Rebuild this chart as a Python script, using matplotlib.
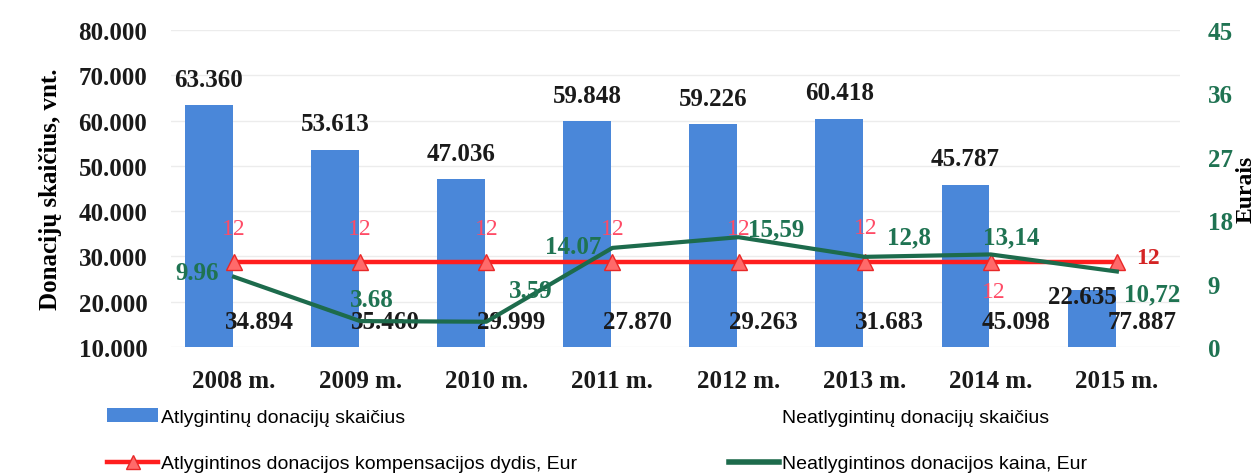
import matplotlib
matplotlib.use("Agg")
import matplotlib.pyplot as plt
from matplotlib.lines import Line2D
from matplotlib.patches import Patch
import numpy as np

years = ['2008 m.', '2009 m.', '2010 m.', '2011 m.', '2012 m.', '2013 m.', '2014 m.', '2015 m.']
paid = [63360, 53613, 47036, 59848, 59226, 60418, 45787, 22635]
unpaid = [34894, 35460, 29999, 27870, 29263, 31683, 45098, 77887]
compensation = [12, 12, 12, 12, 12, 12, 12, 12]
price = [9.96, 3.68, 3.59, 14.07, 15.59, 12.8, 13.14, 10.72]
price_labels = ['9.96', '3.68', '3.59', '14.07', '15,59', '12,8', '13,14', '10,72']
left_ticks = [10000, 20000, 30000, 40000, 50000, 60000, 70000, 80000]
right_ticks = [0, 9, 18, 27, 36, 45]

BLUE = '#4a87d9'
RED = '#ff1e1e'
RED_LBL = '#ff4b66'
GREEN = '#1d6b4c'
GREEN_LBL = '#1f7352'
SERIF = ['Liberation Serif', 'DejaVu Serif']

def fmt_thousands(v):
    return f"{v:,}".replace(',', '.')

fig = plt.figure(figsize=(12.59, 4.77), dpi=100)
ax = fig.add_axes([0.1358, 0.2704, 0.9372 - 0.1358, 0.935 - 0.2704])
ax2 = ax.twinx()

x = np.arange(len(years))
w = 0.38
b1 = ax.bar(x - 0.2, [p - 10000 for p in paid], w, bottom=10000, color=BLUE, zorder=2)
b2 = ax.bar(x + 0.2, [u - 10000 for u in unpaid], w, bottom=10000, color='none', zorder=1)

ax.set_ylim(10000, 80000)
ax.set_xlim(-0.5, len(years) - 0.5)
ax.set_yticks(left_ticks)
ax.set_yticklabels([fmt_thousands(t) for t in left_ticks], fontfamily=SERIF, fontweight='bold', fontsize=18)
ax.set_xticks(x)
ax.set_xticklabels(years, fontfamily=SERIF, fontweight='bold', fontsize=18)
ax.tick_params(axis='y', length=0, pad=17, colors='#1a1a1a')
ax.tick_params(axis='x', length=0, pad=16, colors='#1a1a1a')
ax.grid(axis='y', color='#ececec', linewidth=1, zorder=0)
ax.set_axisbelow(True)
for s in ax.spines.values():
    s.set_visible(False)
for s in ax2.spines.values():
    s.set_visible(False)
ax.set_ylabel('Donacijų skaičius, vnt.', fontfamily=SERIF, fontweight='bold', fontsize=18, labelpad=12)

# paid labels
for i, v in enumerate(paid):
    if i == len(paid) - 1:
        dx, dy = -9, -7
    else:
        dx, dy = 0, 26
    ax.annotate(fmt_thousands(v), (x[i] - 0.2, v), xytext=(dx, dy), textcoords='offset pixels',
                ha='center', va='center', fontfamily=SERIF, fontweight='bold', fontsize=18, color='#1a1a1a', zorder=6)
# unpaid labels at base of invisible bars
for i, v in enumerate(unpaid):
    ax.annotate(fmt_thousands(v), (x[i] + 0.2, 10000), xytext=(0, 26), textcoords='offset pixels',
                ha='center', va='center', fontfamily=SERIF, fontweight='bold', fontsize=18, color='#1a1a1a', zorder=6)

ax2.set_ylim(0, 45)
ax2.set_yticks(right_ticks)
ax2.set_yticklabels([str(t) for t in right_ticks], fontfamily=SERIF, fontweight='bold', fontsize=18, color=GREEN_LBL)
ax2.tick_params(axis='y', length=0, pad=20)
ax2.set_ylabel('Eurais', fontfamily=SERIF, fontweight='bold', fontsize=17)
ax2.yaxis.set_label_coords(1.055, 0.5)

ax2.plot(x, compensation, color=RED, linewidth=3.2, marker='^', markersize=12,
         markerfacecolor='#ff6a6a', markeredgecolor='#e82828', zorder=4)
ax2.plot(x, price, color=GREEN, linewidth=3.0, zorder=5)

red_off = [(0, 34), (0, 34), (0, 34), (0, 34), (0, 34), (1, 35), (3, -29), (31, 5)]
for i, v in enumerate(compensation):
    last = i == len(compensation) - 1
    ax2.annotate(str(v), (x[i], v), xytext=red_off[i], textcoords='offset pixels', ha='center', va='center',
                 fontfamily=SERIF, fontsize=17, fontweight='bold' if last else 'normal',
                 color='#d42424' if last else RED_LBL, zorder=6)

green_off = [(-37, 4), (12, 22), (44, 31), (-39, 1), (38, 8), (44, 20), (20, 18), (35, -22)]
for i, v in enumerate(price):
    ax2.annotate(price_labels[i], (x[i], v), xytext=green_off[i], textcoords='offset pixels', ha='center', va='center',
                 fontfamily=SERIF, fontsize=18, fontweight='bold', color=GREEN_LBL, zorder=6)

handles = [
    Patch(facecolor=BLUE, edgecolor='none'),
    Line2D([], [], color=RED, linewidth=3.2, marker='^', markersize=10, markerfacecolor='#ff6a6a', markeredgecolor='#e82828'),
    Patch(facecolor='none', edgecolor='none'),
    Line2D([], [], color=GREEN, linewidth=4),
]
labels = ['Atlygintinų donacijų skaičius', 'Atlygintinos donacijos kompensacijos dydis, Eur',
          'Neatlygintinų donacijų skaičius', 'Neatlygintinos donacijos kaina, Eur']
fig.legend(handles, labels, ncol=2, loc='upper left', bbox_to_anchor=(0.079, 0.159), frameon=False,
           prop={'family': ['Liberation Sans Narrow', 'Liberation Sans', 'DejaVu Sans'], 'size': 14},
           labelspacing=1.5, handlelength=2.6, handletextpad=0.15, columnspacing=7.8, borderaxespad=0)

fig.savefig('out.png', dpi=100)
